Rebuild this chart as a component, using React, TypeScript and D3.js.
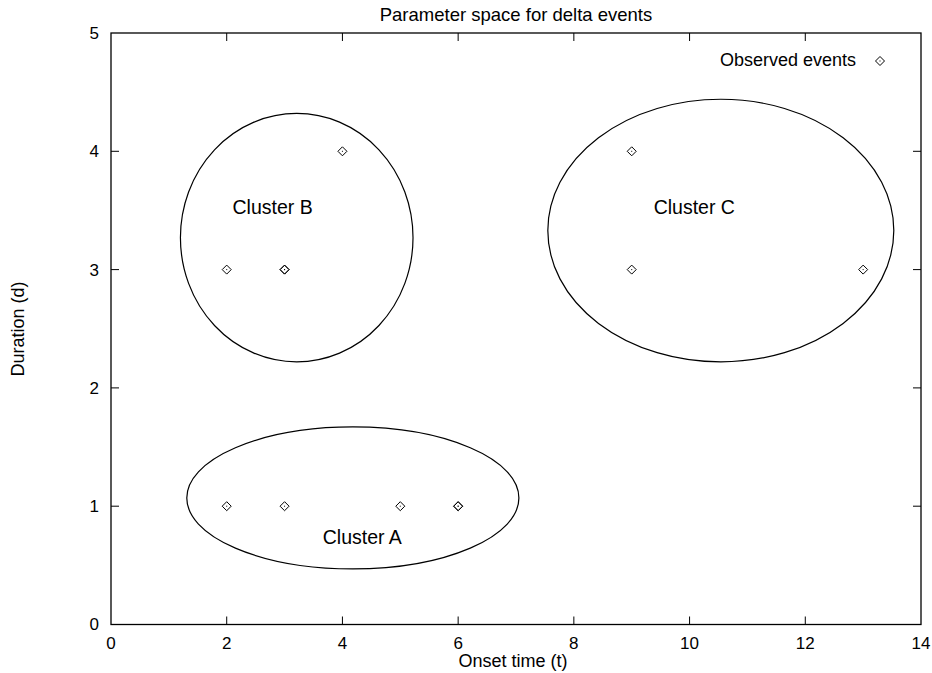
import * as d3 from 'd3';
import React, { useEffect, useRef } from 'react';

// observed events (duplicates are drawn twice, like the original)
const eventX = [2, 3, 5, 6, 6, 2, 3, 3, 4, 9, 9, 13];
const eventY = [1, 1, 1, 1, 1, 3, 3, 3, 4, 4, 3, 3];

// cluster ellipses: centre and full width / height in data units
const clusterNames = ['Cluster A', 'Cluster B', 'Cluster C'];
const clusterCx = [4.18, 3.21, 10.54];
const clusterCy = [1.07, 3.27, 3.33];
const clusterW = [5.74, 4.02, 5.98];
const clusterH = [1.2, 2.1, 2.22];
const labelX = [3.66, 2.1, 9.38];
const labelY = [0.735, 3.525, 3.525];

const xTicks = [0, 2, 4, 6, 8, 10, 12, 14];
const yTicks = [0, 1, 2, 3, 4, 5];

const FONT = '"Liberation Sans", Arial, Helvetica, sans-serif';

export default function App() {
    const ref = useRef<SVGSVGElement>(null);

    useEffect(() => {
        const width = 932;
        const height = 673;
        const margin = { top: 33, right: 11, bottom: 48.5, left: 111 };

        const svg = d3.select(ref.current);
        svg.selectAll('*').remove();

        const x = d3.scaleLinear().domain([0, 14]).range([margin.left, width - margin.right]);
        const y = d3.scaleLinear().domain([0, 5]).range([height - margin.bottom, margin.top]);

        const x0 = x(0), x1 = x(14), y0 = y(0), y1 = y(5);
        const tick = 8;

        // tick marks, mirrored on all four sides
        const ticks = svg.append('g').attr('stroke', '#000').attr('stroke-width', 1);
        xTicks.slice(1, -1).forEach(t => {
            ticks.append('line').attr('x1', x(t)).attr('x2', x(t)).attr('y1', y0).attr('y2', y0 - tick);
            ticks.append('line').attr('x1', x(t)).attr('x2', x(t)).attr('y1', y1).attr('y2', y1 + tick);
        });
        yTicks.slice(1, -1).forEach(t => {
            ticks.append('line').attr('x1', x0).attr('x2', x0 + tick).attr('y1', y(t)).attr('y2', y(t));
            ticks.append('line').attr('x1', x1).attr('x2', x1 - tick).attr('y1', y(t)).attr('y2', y(t));
        });

        // tick labels
        svg.append('g')
            .selectAll('text')
            .data(xTicks)
            .enter()
            .append('text')
            .attr('x', d => x(d))
            .attr('y', y0 + 24)
            .attr('text-anchor', 'middle')
            .attr('font-size', 17)
            .text(d => d);

        svg.append('g')
            .selectAll('text')
            .data(yTicks)
            .enter()
            .append('text')
            .attr('x', x0 - 12)
            .attr('y', d => y(d))
            .attr('dy', '0.35em')
            .attr('text-anchor', 'end')
            .attr('font-size', 17)
            .text(d => d);

        // cluster ellipses
        svg.append('g')
            .selectAll('ellipse')
            .data(clusterNames.map((n, i) => i))
            .enter()
            .append('ellipse')
            .attr('cx', i => x(clusterCx[i]))
            .attr('cy', i => y(clusterCy[i]))
            .attr('rx', i => x(clusterW[i] / 2) - x(0))
            .attr('ry', i => y(0) - y(clusterH[i] / 2))
            .attr('fill', 'none')
            .attr('stroke', '#000')
            .attr('stroke-width', 1.2);

        svg.append('g')
            .selectAll('text')
            .data(clusterNames.map((n, i) => i))
            .enter()
            .append('text')
            .attr('x', i => x(labelX[i]))
            .attr('y', i => y(labelY[i]))
            .attr('dy', '0.35em')
            .attr('font-size', 19.5)
            .text(i => clusterNames[i]);

        // points: open diamond with a centre dot
        const diamond = (cx: number, cy: number, g: any) => {
            const r = 4.5;
            g.append('path')
                .attr('d', `M${cx},${cy - r}L${cx + r},${cy}L${cx},${cy + r}L${cx - r},${cy}Z`)
                .attr('fill', 'none')
                .attr('stroke', '#000')
                .attr('stroke-width', 1);
            g.append('rect')
                .attr('x', cx - 0.5).attr('y', cy - 0.5)
                .attr('width', 1).attr('height', 1)
                .attr('fill', '#000');
        };

        const pts = svg.append('g');
        eventX.forEach((d, i) => diamond(x(d), y(eventY[i]), pts));

        // legend
        svg.append('text')
            .attr('x', 856)
            .attr('y', 65.5)
            .attr('text-anchor', 'end')
            .attr('font-size', 18)
            .text('Observed events');
        diamond(880, 61, svg.append('g'));

        // border
        svg.append('rect')
            .attr('x', x0).attr('y', y1)
            .attr('width', x1 - x0).attr('height', y0 - y1)
            .attr('fill', 'none')
            .attr('stroke', '#000')
            .attr('stroke-width', 1.3);

        // title and axis labels
        svg.append('text')
            .attr('x', (x0 + x1) / 2)
            .attr('y', 21)
            .attr('text-anchor', 'middle')
            .attr('font-size', 18.5)
            .text('Parameter space for delta events');

        svg.append('text')
            .attr('x', 513)
            .attr('y', 667)
            .attr('text-anchor', 'middle')
            .attr('font-size', 18)
            .text('Onset time (t)');

        svg.append('text')
            .attr('transform', 'translate(24,329) rotate(-90)')
            .attr('text-anchor', 'middle')
            .attr('font-size', 18)
            .text('Duration (d)');
    }, []);

    return (
        <svg
            ref={ref}
            width={932}
            height={673}
            style={{ position: 'absolute', left: 0, top: 0, background: '#fff', fontFamily: FONT }}
        />
    );
}
